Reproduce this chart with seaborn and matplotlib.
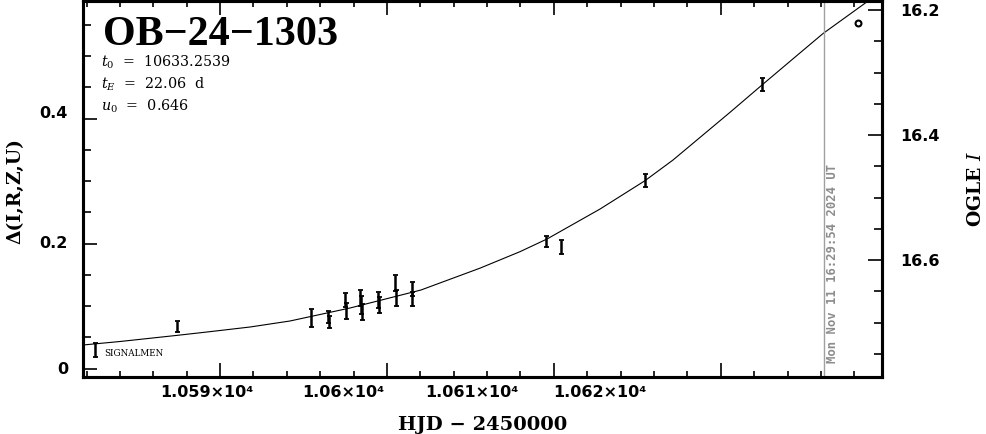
import matplotlib
matplotlib.use("Agg")
import matplotlib.pyplot as plt
import matplotlib.transforms as mtransforms
from matplotlib.ticker import MultipleLocator, FixedLocator
import seaborn as sns

# photometry: HJD-2450000, delta mag and error
obs_t = [10582.51, 10587.42, 10595.45, 10596.44, 10596.52, 10597.46, 10597.53,
         10598.39, 10598.45, 10598.51, 10599.45, 10599.50, 10600.47, 10600.52,
         10601.48, 10601.53, 10609.53, 10610.43, 10615.46, 10622.47]
obs_d = [0.0296, 0.0680, 0.0816, 0.0824, 0.0744, 0.1096, 0.0920,
         0.1128, 0.1016, 0.0904, 0.1096, 0.1016, 0.1368, 0.1128,
         0.1272, 0.1112, 0.2029, 0.1944, 0.3005, 0.4544]
obs_err = [0.0112, 0.0088, 0.0144, 0.0096, 0.0096, 0.0112, 0.0128,
           0.0128, 0.0144, 0.0128, 0.0128, 0.0128, 0.0128, 0.0128,
           0.0112, 0.0112, 0.0091, 0.0112, 0.0107, 0.0099]
# last (OGLE) point drawn as open circle
last_t = [10628.23]
last_d = [0.5523]

# model curve
curve_t = [10581.79, 10584.01, 10587.42, 10589.22, 10591.80, 10594.19, 10597.79,
           10602.04, 10605.58, 10607.97, 10609.59, 10612.77, 10615.46, 10617.14,
           10620.56, 10622.47, 10624.75, 10626.13, 10628.83, 10629.66]
curve_d = [0.0376, 0.0432, 0.0530, 0.0584, 0.0664, 0.0760, 0.0968,
           0.1256, 0.1606, 0.1869, 0.2072, 0.2552, 0.3005, 0.3336,
           0.4100, 0.4536, 0.5050, 0.5360, 0.5880, 0.6030]

now_hjd = 10626.19
now_text = "Mon Nov 11 16:29:54 2024 UT"

xticks = [10590, 10600, 10610, 10620]
xtick_text = ["1.059×10⁴", "1.06×10⁴", "1.061×10⁴", "1.062×10⁴"]
xtick_text_at = [10589.19, 10597.40, 10605.10, 10612.76]  # where the labels sit in the original
yticks = [0, 0.2, 0.4]
ytick_text = ["0", "0.2", "0.4"]
ytick_text_at = [-0.0024, 0.2, 0.408]
mag_ticks = [16.2, 16.4, 16.6]
mag_zero = 16.7736  # OGLE I = mag_zero - delta

sns.set_style("ticks")
plt.rcParams.update({"mathtext.fontset": "dejavuserif", "text.color": "black",
                     "axes.labelcolor": "black", "xtick.color": "black", "ytick.color": "black"})

fig = plt.figure(figsize=(9.86, 4.34), dpi=100)
ax = fig.add_axes([83 / 986, 57 / 434, 799 / 986, 376 / 434])

sns.lineplot(x=curve_t, y=curve_d, ax=ax, color="black", lw=0.8)
ax.errorbar(obs_t, obs_d, yerr=obs_err, fmt="none", ecolor="black",
            elinewidth=1.8, capsize=1.8, capthick=1.3)
sns.scatterplot(x=last_t, y=last_d, ax=ax, marker="o", s=18,
                facecolor="white", edgecolor="black", linewidth=1.5, zorder=5)

ax.axvline(now_hjd, color="#a0a0a0", lw=1.0)
off = mtransforms.offset_copy(ax.transData, fig=fig, x=2, y=0, units="dots")
ax.text(now_hjd, 0.0088, now_text, transform=off, rotation=90, ha="left", va="bottom",
        color="#8c8c8c", fontsize=8.8, family="DejaVu Sans Mono", fontweight="bold")

ax.set_xlim(10581.79, 10629.66)
ax.set_ylim(-0.0136, 0.588)

ax.xaxis.set_major_locator(FixedLocator(xticks))
ax.xaxis.set_minor_locator(MultipleLocator(2))
ax.yaxis.set_major_locator(FixedLocator(yticks))
ax.yaxis.set_minor_locator(MultipleLocator(0.05))
ax.set_xticklabels([])
ax.set_yticklabels([])
ax.tick_params(axis="both", which="both", direction="in", top=True, right=False, width=1.2, colors="black")
ax.tick_params(axis="x", which="major", length=10)
ax.tick_params(axis="x", which="minor", length=4.2)
ax.tick_params(axis="y", which="major", length=10)
ax.tick_params(axis="y", which="minor", length=5.7)

# tick labels, placed where the original has them
xtr = mtransforms.blended_transform_factory(ax.transData, ax.transAxes)
for pos, lab in zip(xtick_text_at, xtick_text):
    ax.text(pos, -0.0524, lab, transform=xtr, ha="center", va="baseline",
            fontsize=11.5, fontweight="bold", family="DejaVu Sans")
ytr = mtransforms.blended_transform_factory(ax.transAxes, ax.transData)
for pos, lab in zip(ytick_text_at, ytick_text):
    ax.text(-0.0188, pos, lab, transform=ytr, ha="right", va="center",
            fontsize=11.5, fontweight="bold", family="DejaVu Sans")

ax2 = ax.twinx()
ax2.set_ylim(mag_zero + 0.0136, mag_zero - 0.588)
ax2.yaxis.set_major_locator(FixedLocator(mag_ticks))
ax2.yaxis.set_minor_locator(MultipleLocator(0.05))
ax2.set_yticklabels(["16.2", "16.4", "16.6"], fontsize=11.5, fontweight="bold", family="DejaVu Sans")
ax2.tick_params(axis="y", which="both", direction="in", right=True, left=False, width=1.2, pad=13,
                colors="black")
ax2.tick_params(axis="y", which="major", length=10)
ax2.tick_params(axis="y", which="minor", length=5.7)

for a in (ax, ax2):
    for sp in a.spines.values():
        sp.set_linewidth(2.2)
        sp.set_color("black")

ax.set_ylabel("Δ(I,R,Z,U)", family="DejaVu Serif", fontweight="bold", fontsize=13.5)
ax.yaxis.set_label_coords(-0.073, 0.495)
ax2.set_ylabel("OGLE $I$", family="DejaVu Serif", fontweight="bold", fontsize=13.5)
ax2.yaxis.set_label_coords(1.106, 0.5)
ax.set_xlabel("HJD − 2450000", family="DejaVu Serif", fontweight="bold", fontsize=14, va="baseline")
ax.xaxis.set_label_coords(0.5006, -0.141)

# event name and fit parameters
ax.text(0.025, 0.883, "OB−24−1303", transform=ax.transAxes, family="Liberation Serif",
        fontweight="bold", fontsize=30.3, va="baseline")
params = ["$t_0$  =  10633.2539", "$t_E$  =  22.06  d", "$u_0$  =  0.646"]
for yy, s in zip([0.825, 0.766, 0.708], params):
    ax.text(0.0225, yy, s, transform=ax.transAxes, family="DejaVu Serif", fontsize=10.3, va="baseline")
ax.text(10583.05, 0.0248, "SIGNALMEN", family="DejaVu Serif", fontsize=6.3, va="center")

fig.savefig("out.png", dpi=100)
